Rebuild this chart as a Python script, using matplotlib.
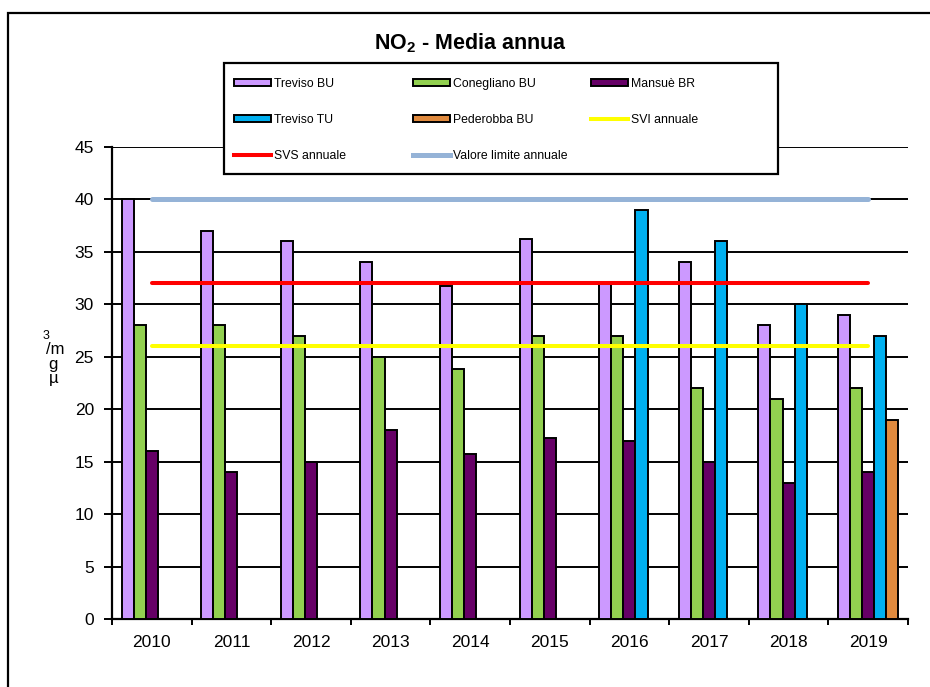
import numpy as np
import matplotlib
matplotlib.use('Agg')
import matplotlib.pyplot as plt
from matplotlib.patches import Rectangle, Patch
from matplotlib.lines import Line2D

plt.rcParams['font.family'] = ['Liberation Sans', 'DejaVu Sans']
plt.rcParams['mathtext.fontset'] = 'custom'
plt.rcParams['mathtext.rm'] = 'Liberation Sans'
plt.rcParams['mathtext.bf'] = 'Liberation Sans:bold'

years = ['2010', '2011', '2012', '2013', '2014', '2015', '2016', '2017', '2018', '2019']
treviso_bu = [40, 37, 36, 34, 31.7, 36.2, 32, 34, 28, 29]
conegliano_bu = [28, 28, 27, 25, 23.8, 27, 27, 22, 21, 22]
mansue_br = [16, 14, 15, 18, 15.7, 17.3, 17, 15, 13, 14]
treviso_tu = [np.nan] * 6 + [39, 36, 30, 27]
pederobba_bu = [np.nan] * 9 + [19]
svi = 26
svs = 32
limite = 40

series = [
    ('Treviso BU', treviso_bu, '#CC99FF'),
    ('Conegliano BU', conegliano_bu, '#92D050'),
    ('Mansuè BR', mansue_br, '#660066'),
    ('Treviso TU', treviso_tu, '#00B0F0'),
    ('Pederobba BU', pederobba_bu, '#E08A3E'),
]

fig = plt.figure(figsize=(9.3, 6.87), dpi=100)
W, H = 930, 687
ax = fig.add_axes([112 / W, 1 - 619.3 / H, (908 - 112) / W, (619.3 - 146.8) / H])

x = np.arange(len(years))
w = 0.152
for j, (name, vals, col) in enumerate(series):
    ax.bar(x + (j - 2) * w, vals, width=w, color=col, edgecolor='black',
           linewidth=1.4, zorder=3)

ax.plot([x[0], x[-1]], [limite, limite], color='#95B3D7', lw=3.6, zorder=4,
        solid_capstyle='round')
ax.plot([x[0], x[-1]], [svs, svs], color='#FF0000', lw=2.9, zorder=4,
        solid_capstyle='round')
ax.plot([x[0], x[-1]], [svi, svi], color='#FFFF00', lw=2.9, zorder=4,
        solid_capstyle='round')

ax.set_xlim(-0.5, len(years) - 0.5)
ax.set_ylim(0, 45)
ax.set_yticks(np.arange(0, 46, 5))
ax.yaxis.grid(True, color='black', lw=1.4)
ax.set_axisbelow(True)
ax.set_xticks(x)
ax.set_xticklabels(years, fontsize=12.5)
ax.set_xticks(np.arange(-0.5, len(years)), minor=True)
ax.tick_params(axis='x', which='major', length=0, pad=11)
ax.tick_params(axis='x', which='minor', length=4, width=1.4, direction='out')
ax.tick_params(axis='y', length=6, width=1.4, labelsize=12.5, pad=7)
for s in ['top', 'right']:
    ax.spines[s].set_visible(False)
for s in ['left', 'bottom']:
    ax.spines[s].set_linewidth(1.6)

# y label drawn as stacked characters like the original
for ch, px, py, fs in [('3', 46, 336, 9), ('/m', 55, 350, 12),
                       ('g', 53, 364, 12), ('µ', 54, 379, 12)]:
    fig.text(px / W, 1 - py / H, ch, fontsize=fs, ha='center', va='center')

fig.text(470 / W, 1 - 43 / H, 'NO$_\\mathbf{2}$ - Media annua', fontsize=15.5,
         fontweight='bold', ha='center', va='center')

# outer frame
fig.patches.append(Rectangle((8 / W, -0.1), 1.2, 1 - 13 / H + 0.1, transform=fig.transFigure,
                             fill=False, edgecolor='black', lw=1.6, zorder=0))
# legend frame
fig.patches.append(Rectangle((224 / W, 1 - 174 / H), (778 - 224) / W, (174 - 63) / H,
                             transform=fig.transFigure, facecolor='white',
                             edgecolor='black', lw=1.6, zorder=5))

def bar_handle(col):
    return Patch(facecolor=col, edgecolor='black', linewidth=1.4)

columns = [
    ([bar_handle(series[0][2]), bar_handle(series[3][2]),
      Line2D([], [], color='#FF0000', lw=2.9)],
     ['Treviso BU', 'Treviso TU', 'SVS annuale'], 234),
    ([bar_handle(series[1][2]), bar_handle(series[4][2]),
      Line2D([], [], color='#95B3D7', lw=3.6)],
     ['Conegliano BU', 'Pederobba BU', 'Valore limite annuale'], 413),
    ([bar_handle(series[2][2]), Line2D([], [], color='#FFFF00', lw=2.9)],
     ['Mansuè BR', 'SVI annuale'], 591),
]
for handles, labels, lx in columns:
    leg = fig.legend(handles, labels, loc='upper left',
                     bbox_to_anchor=(lx / W, 1 - 78 / H), frameon=False,
                     fontsize=8.8, borderpad=0, borderaxespad=0,
                     handlelength=3.0, handleheight=0.5, handletextpad=0.3,
                     labelspacing=1.95)
    leg.set_zorder(6)

fig.savefig('out.png', dpi=100)
